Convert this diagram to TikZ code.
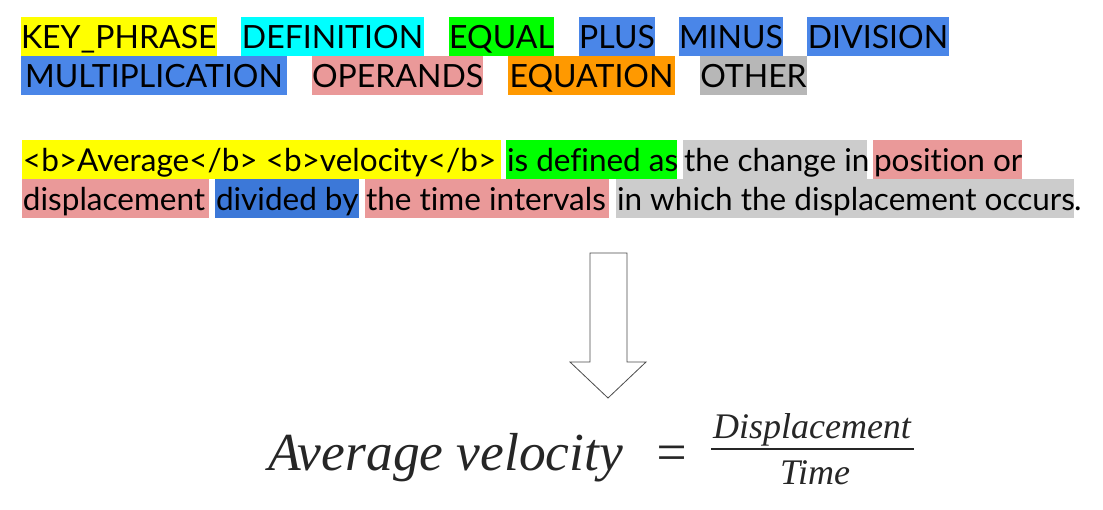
\documentclass[tikz,border=0pt]{standalone}
\usepackage{fontspec}
\setmainfont{Lato}[Ligatures=NoCommon]
\newfontfamily\eqfont{Liberation Serif}
\definecolor{hyel}{HTML}{FFFF00}
\definecolor{hcyan}{HTML}{00FFFF}
\definecolor{hgreen}{HTML}{00FF00}
\definecolor{hblue}{HTML}{4A86E8}
\definecolor{hbluep}{HTML}{3C78D8}
\definecolor{hpink}{HTML}{EA9999}
\definecolor{horange}{HTML}{FF9900}
\definecolor{hgray}{HTML}{B7B7B7}
\definecolor{hgrayp}{HTML}{CCCCCC}
\newcommand{\lbox}[2]{\makebox[#1][l]{\hspace{1pt}#2}}
\begin{document}
\begin{tikzpicture}[x=1pt,y=-1pt,
  hl/.style={anchor=north west, inner sep=0pt, outer sep=0pt, minimum height=39pt,
    text height=32pt, text depth=7pt, font=\fontsize{32}{39}\selectfont},
  hp/.style={hl, font=\fontsize{31.5}{39}\selectfont},
  eqtxt/.style={anchor=base, inner sep=0pt, text=black!85, font=\eqfont\itshape\fontsize{53.5}{60}\selectfont},
  eqsmall/.style={anchor=base, inner sep=0pt, text=black!85, font=\eqfont\itshape\fontsize{36}{42}\selectfont},
  blockarrow/.style={draw=black!70, line width=0.8pt, fill=white}]
\useasboundingbox (0,0) rectangle (1103,510);
% legend row 1
\node[hl, fill=hyel,   minimum width=195pt] (kp)  at (21,17)  {KEY\_PHRASE};
\node[hl, fill=hcyan,  minimum width=183pt] (def) at (241,17) {DEFINITION};
\node[hl, fill=hgreen, minimum width=105pt] (eql) at (449,17) {EQUAL};
\node[hl, fill=hblue,  minimum width=76pt]  (pls) at (579,17) {PLUS};
\node[hl, fill=hblue,  minimum width=104pt] (mns) at (679,17) {MINUS};
\node[hl, fill=hblue,  minimum width=142pt] (dvs) at (807,17) {DIVISION};
% legend row 2
\node[hl, fill=hblue,   minimum width=266pt] (mul) at (21,56)  {MULTIPLICATION};
\node[hl, fill=hpink,   minimum width=171pt] (opr) at (312,56) {OPERANDS};
\node[hl, fill=horange, minimum width=167pt] (eqn) at (508,56) {EQUATION};
\node[hl, fill=hgray,   minimum width=107pt] (oth) at (700,56) {OTHER};
% paragraph row 1
\node[hp, fill=hyel]   (p1) at (22,140)  {\lbox{479pt}{<b>Average</b> <b>velocity</b>}};
\node[hp, fill=hgreen] (p2) at (506,140) {\lbox{171pt}{is defined as}};
\node[hp, fill=hgrayp] (p3) at (683,140) {\lbox{184pt}{the change in}};
\node[hp, fill=hpink]  (p4) at (873,140) {\lbox{149pt}{position or}};
% paragraph row 2
\node[hp, fill=hpink]  (p5) at (22,179)  {\lbox{187pt}{displacement}};
\node[hp, fill=hbluep] (p6) at (215,179) {\lbox{144pt}{divided by}};
\node[hp, fill=hpink]  (p7) at (365,179) {\lbox{244pt}{the time intervals}};
\node[hp, fill=hgrayp] (p8) at (616,179) {\lbox{458pt}{in which the displacement occurs}};
\node[hp, anchor=north west] (dot) at (p8.north east) {.};
% block arrow
\path[blockarrow] (590,253) -- (627,253) -- (627,362) -- (646,362) -- (608,398)
  -- (570,362) -- (590,362) -- cycle;
\coordinate (tip) at (608,398);
% equation
\node[eqtxt, anchor=base west] (lhs) at (268,470) {Average velocity};
\node[eqtxt, anchor=base west] (eqs) at (653,470) {=};
\node[eqsmall] (num) at (812,438) {Displacement};
\node[eqsmall] (den) at (815,484) {Time};
\coordinate (fl) at (711,449);
\coordinate (fr) at (914,449);
\draw[line width=2.5pt, black!85] (fl) -- (fr);
\end{tikzpicture}
\end{document}
